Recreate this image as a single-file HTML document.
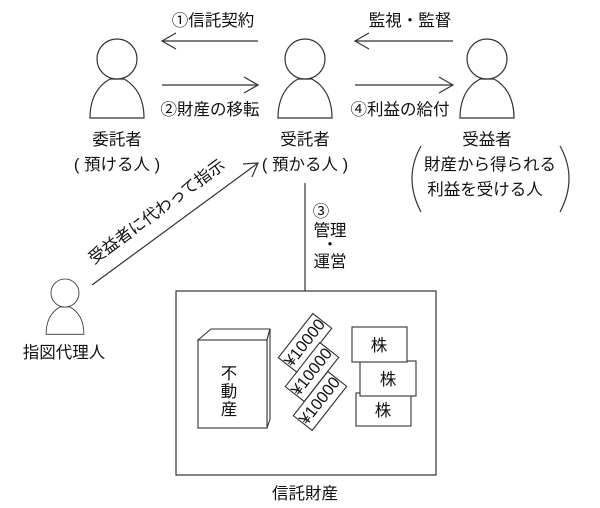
<!DOCTYPE html>
<html><head><meta charset="utf-8"><style>
html,body{margin:0;padding:0;background:#fff;}
svg{display:block;}
text{font-family:"Liberation Sans","Noto Sans CJK JP",sans-serif;fill:#111;font-size:16.5px;}
</style></head><body>
<svg width="600" height="508" viewBox="0 0 600 508" xmlns="http://www.w3.org/2000/svg">
<defs>
<g id="person" fill="#fff" stroke="#333" stroke-width="1.2">
<path d="M-27,59 C-27,38 -18,26 -7,20 L7,20 C18,26 27,38 27,59 Z"/>
<circle cx="0" cy="0" r="20"/>
</g>
</defs>
<use href="#person" x="117" y="59"/>
<use href="#person" x="305" y="59"/>
<use href="#person" x="487" y="59"/>
<g transform="translate(65,293) scale(0.7)"><use href="#person"/></g>

<g stroke="#333" stroke-width="1.2" fill="none">
<line x1="162" y1="41" x2="258" y2="41"/><polyline points="176,33 162,41 176,49"/>
<line x1="162" y1="85" x2="258" y2="85"/><polyline points="244,77 258,85 244,93"/>
<line x1="355" y1="41" x2="453" y2="41"/><polyline points="369,33 355,41 369,49"/>
<line x1="355" y1="85" x2="453" y2="85"/><polyline points="439,77 453,85 439,93"/>
<line x1="92" y1="285" x2="258" y2="163"/><polyline points="243,164 258,163 252,177"/>
<line x1="305" y1="183" x2="305" y2="291"/>
<rect x="176" y="291" width="260" height="184"/>
<path d="M421,146 Q403,178 421,212"/>
<path d="M560,146 Q578,178 560,212"/>
</g>

<text x="213" y="26" text-anchor="middle">①信託契約</text>
<text x="210" y="115" text-anchor="middle">②財産の移転</text>
<text x="410" y="26" text-anchor="middle">監視・監督</text>
<text x="400" y="115" text-anchor="middle">④利益の給付</text>
<text x="117" y="145" text-anchor="middle">委託者</text>
<text x="117" y="170" text-anchor="middle">( 預ける人 )</text>
<text x="305" y="145" text-anchor="middle">受託者</text>
<text x="305" y="170" text-anchor="middle">( 預かる人 )</text>
<text x="487" y="145" text-anchor="middle">受益者</text>
<text x="490" y="170" text-anchor="middle">財産から得られる</text>
<text x="485" y="195" text-anchor="middle">利益を受ける人</text>
<text x="160" y="216" text-anchor="middle" transform="rotate(-36.3 160 216)" font-size="17.5">受益者に代わって指示</text>
<text x="64" y="358" text-anchor="middle">指図代理人</text>
<text x="321" y="217" text-anchor="middle">③</text>
<text x="330" y="236" text-anchor="middle">管理</text>
<text x="330" y="250" text-anchor="middle">・</text>
<text x="330" y="267" text-anchor="middle">運営</text>
<text x="305" y="499" text-anchor="middle">信託財産</text>

<g stroke="#333" stroke-width="1.1" fill="#fff">
<polygon points="198,340 211,329 270,329 267,340"/>
<polygon points="267,340 270,329 270,419 267,428"/>
<rect x="198" y="340" width="69" height="88"/>
</g>
<text x="229" y="379" text-anchor="middle" font-size="18">不</text>
<text x="229" y="397" text-anchor="middle" font-size="18">動</text>
<text x="229" y="415" text-anchor="middle" font-size="18">産</text>

<g stroke="#333" stroke-width="1.1" fill="#fff">
<g transform="translate(305,343) rotate(-52)"><rect x="-28" y="-12" width="56" height="24"/><text x="0" y="5" text-anchor="middle" font-size="12.5" stroke="none">¥10000</text></g>
<g transform="translate(312,372) rotate(-52)"><rect x="-28" y="-12" width="56" height="24"/><text x="0" y="5" text-anchor="middle" font-size="12.5" stroke="none">¥10000</text></g>
<g transform="translate(320,401) rotate(-52)"><rect x="-28" y="-12" width="56" height="24"/><text x="0" y="5" text-anchor="middle" font-size="12.5" stroke="none">¥10000</text></g>
<rect x="356" y="393" width="55" height="33"/>
<rect x="360" y="361" width="56" height="35"/>
<rect x="352" y="327" width="55" height="35"/>
</g>
<text x="379" y="351" text-anchor="middle" font-size="17">株</text>
<text x="388" y="385" text-anchor="middle" font-size="17">株</text>
<text x="383" y="416" text-anchor="middle" font-size="17">株</text>
</svg>
</body></html>
